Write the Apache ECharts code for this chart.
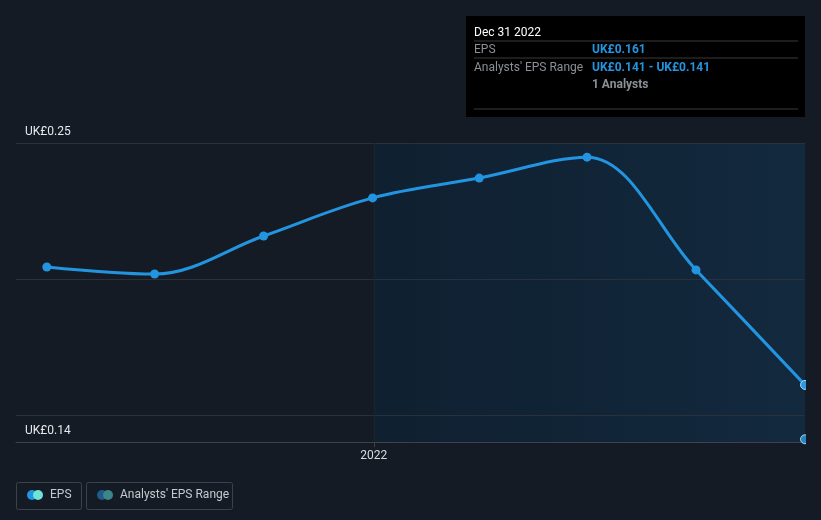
<!DOCTYPE html>
<html><head><meta charset="utf-8">
<script src="https://cdn.jsdelivr.net/npm/echarts@6/dist/echarts.min.js"></script>
<style>html,body{margin:0;padding:0;background:#151b24;width:821px;height:520px;overflow:hidden}#c{width:806px;height:520px}</style>
</head><body><div id="c"></div>
<script>
const dates = ['2021-03-31','2021-06-30','2021-09-30','2021-12-31','2022-03-31','2022-06-30','2022-09-30','2022-12-31'];
const eps = [0.2044,0.2018,0.2158,0.2298,0.2371,0.2448,0.2033,0.161];
const analystDate = '2022-12-31';
const analystEps = 0.141;
const yLabels = [0.14, 0.25];
const gridValues = [0.15, 0.2, 0.25];
const xLabelDate = '2022-01-01';
const xLabelText = '2022';
const xMinDate = '2021-03-05';
const xMaxDate = '2022-12-31';

const ts = d => Date.parse(d + 'T00:00:00Z');
const F = 'Roboto, "Noto Sans", sans-serif';
const chart = echarts.init(document.getElementById('c'), null, {renderer:'canvas'});
const epsData = dates.map((d,i)=>[ts(d),eps[i]]);
chart.setOption({
  backgroundColor:'#151b24',
  animation:false,
  textStyle:{fontFamily:F},
  grid:{left:16,right:1,top:143,bottom:78},
  xAxis:{type:'value',min:ts(xMinDate),max:ts(xMaxDate),
    axisLine:{show:true,lineStyle:{color:'#3c434d',width:1}},
    axisTick:{show:true,customValues:[ts(xLabelDate)],length:5,lineStyle:{color:'#3c434d'}},
    axisLabel:{customValues:[ts(xLabelDate)],formatter:()=> xLabelText,color:'#d8dbe0',fontSize:12,fontFamily:F,margin:8},
    splitLine:{show:false}},
  yAxis:{type:'value',min:0.14,max:0.25,
    axisLine:{show:false},axisTick:{show:false},splitLine:{show:false},
    axisLabel:{customValues:yLabels,inside:true,verticalAlign:'bottom',margin:9,padding:[0,0,5,0],
      color:'#e6e8eb',fontSize:12,fontFamily:F,formatter:v=>'UK£'+(+v).toFixed(2)}},
  series:[
    {type:'line',data:epsData,smooth:0.35,symbol:'circle',symbolSize:9,
      itemStyle:{color:'#2394df'},lineStyle:{color:'#2394df',width:3},z:5,
      markArea:{silent:true,itemStyle:{color:{type:'linear',x:0,y:0,x2:1,y2:0,colorStops:[{offset:0,color:'#0f2030'},{offset:1,color:'#13293e'}]}},
        label:{show:true,position:'insideTopRight',formatter:'Actual',color:'#e6e8eb',fontSize:12,fontFamily:F,distance:[8,5]},
        data:[[{xAxis:ts(xLabelDate)},{xAxis:ts(xMaxDate)}]]},
      markLine:{silent:true,symbol:'none',label:{show:false},
        lineStyle:{color:'#2a313b',width:1,type:'solid'},
        data:gridValues.map(v=>({yAxis:v})).concat([{xAxis:ts(xLabelDate),lineStyle:{color:'#18252f',width:1}}])}
    },
    {type:'scatter',data:[[ts(analystDate),analystEps]],symbol:'circle',symbolSize:9,
      itemStyle:{color:'#2b9be6',borderColor:'#cfe8f7',borderWidth:1},z:6},
    {type:'scatter',data:[[ts(dates[dates.length-1]),eps[eps.length-1]]],symbol:'circle',symbolSize:9,
      itemStyle:{color:'#2b9be6',borderColor:'#cfe8f7',borderWidth:1},z:6}
  ],
  graphic:[
    {type:'rect',shape:{x:466,y:16,width:339,height:101},style:{fill:'#000'},z:100},
    {type:'text',x:474,y:27,style:{text:'Dec 31 2022',fill:'#ffffff',font:'12px '+F},z:101},
    {type:'line',shape:{x1:474,y1:41,x2:798,y2:41},style:{stroke:'#3a3a3a',lineWidth:1},z:101},
    {type:'text',x:474,y:44,style:{text:'EPS',fill:'#8b9096',font:'12px '+F},z:101},
    {type:'text',x:592,y:44,style:{text:'UK£0.161',fill:'#2394df',font:'bold 12px '+F},z:101},
    {type:'line',shape:{x1:474,y1:58,x2:798,y2:58},style:{stroke:'#3a3a3a',lineWidth:1},z:101},
    {type:'text',x:474,y:62,style:{text:"Analysts' EPS Range",fill:'#8b9096',font:'12px '+F},z:101},
    {type:'text',x:592,y:62,style:{text:'UK£0.141 - UK£0.141',fill:'#2394df',font:'bold 12px '+F},z:101},
    {type:'text',x:592,y:79,style:{text:'1 Analysts',fill:'#8b9096',font:'bold 12px '+F},z:101},
    {type:'line',shape:{x1:474,y1:109,x2:798,y2:109},style:{stroke:'#3a3a3a',lineWidth:1},z:101},

    {type:'rect',shape:{x:16.5,y:482.5,width:65,height:27,r:2},style:{fill:'none',stroke:'#3b424c',lineWidth:1},z:100},
    {type:'circle',shape:{cx:32,cy:495,r:5},style:{fill:'#2394df'},z:101},
    {type:'circle',shape:{cx:38,cy:495,r:5},style:{fill:'#6fe3d6'},z:102},
    {type:'text',x:50,y:489,style:{text:'EPS',fill:'#c5c9cf',font:'12px '+F},z:101},
    {type:'rect',shape:{x:86.5,y:482.5,width:146,height:27,r:2},style:{fill:'none',stroke:'#3b424c',lineWidth:1},z:100},
    {type:'circle',shape:{cx:102,cy:495,r:5},style:{fill:'#1f5b8a'},z:101},
    {type:'circle',shape:{cx:108,cy:495,r:5},style:{fill:'#3d8687'},z:102},
    {type:'text',x:120,y:489,style:{text:"Analysts' EPS Range",fill:'#c5c9cf',font:'12px '+F},z:101}
  ]
});
</script></body></html>
